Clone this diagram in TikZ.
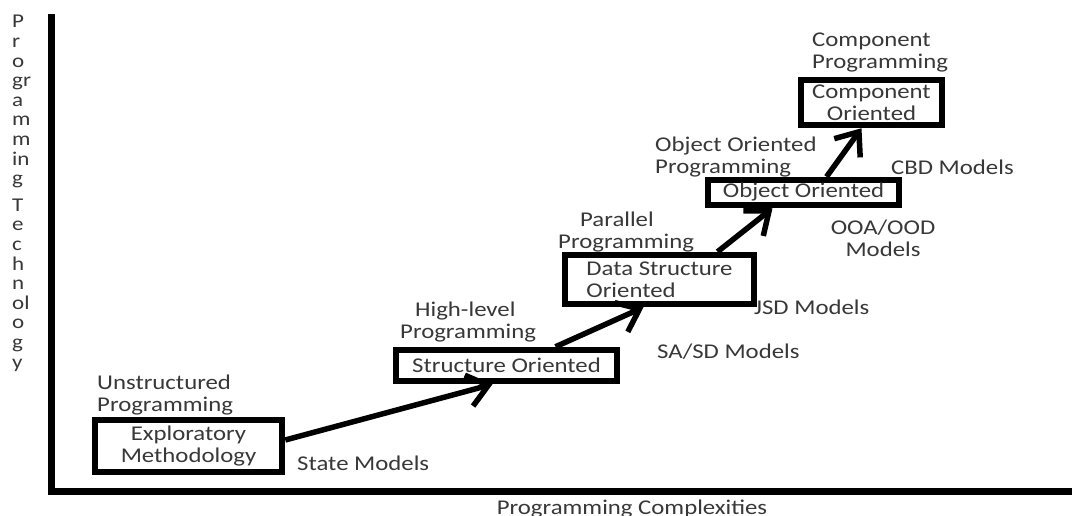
\documentclass[tikz,border=0pt]{standalone}
\usepackage{fontspec}
\setmainfont{Carlito}[FakeStretch=1.18]
\usepackage{xcolor}
\definecolor{InkBlack}{HTML}{000000}
\definecolor{TextGray}{HTML}{383838}
\usetikzlibrary{positioning, arrows.meta, calc}

\begin{document}
\begin{tikzpicture}[
  x=1pt, y=-1pt,
  stage/.style={draw=InkBlack, line width=6.5pt, inner sep=0pt, align=center,
                text=TextGray, font=\fontsize{21}{22}\selectfont},
  note/.style={anchor=base west, align=left, inner sep=0pt, text=TextGray,
               font=\fontsize{21}{22.5}\selectfont},
  axisline/.style={line width=7pt, InkBlack, line join=miter},
  arr/.style={-{Straight Barb[length=20pt, width=32pt]}, line width=5.5pt, InkBlack}
]
  \useasboundingbox (0,0) rectangle (1076,515);
  \fill[white] (0,0) rectangle (1076,515);

  % Axes
  \coordinate (ytop) at (51,14);
  \coordinate (origin) at (51,491);
  \coordinate (xend) at (1072,491);
  \draw[axisline] (ytop) -- (origin) -- (xend);
  \node[note, font=\fontsize{19.5}{19.6}\selectfont] (ylab) at (12,368)
    {P\\r\\o\\gr\\a\\m\\m\\in\\g\\[7pt]T\\e\\c\\h\\n\\ol\\o\\g\\y};
  \node[note, anchor=base] (xlab) at (632,514) {Programming Complexities};

  % Stages
  \node[stage, minimum width=187pt, minimum height=52pt] (expl) at (188.5,446) {Exploratory\\Methodology};
  \node[stage, minimum width=221pt, minimum height=31pt] (struct) at (506.5,365.5) {Structure Oriented};
  \node[stage, minimum width=189pt, minimum height=49pt, align=left] (data) at (659.5,279.5) {Data Structure\\Oriented};
  \node[stage, minimum width=191pt, minimum height=25pt] (obj) at (803.5,192.5) {Object Oriented};
  \node[stage, minimum width=141pt, minimum height=45pt] (comp) at (871.5,102.5) {Component\\Oriented};

  % Programming labels (base = last line)
  \node[note] (unstr) at (97,411.5) {Unstructured\\Programming};
  \node[note] (high) at (400,338.5) {\hspace*{15pt}High-level\\Programming};
  \node[note] (para) at (558,248.5) {\hspace*{22pt}Parallel\\Programming};
  \node[note] (oop) at (655,173.5) {Object Oriented\\Programming};
  \node[note] (cbp) at (812,68.5) {Component\\Programming};

  % Model labels
  \node[note] (state) at (297,470) {State Models};
  \node[note] (sasd) at (657,358) {SA/SD Models};
  \node[note] (jsd) at (754,314) {JSD Models};
  \node[note, anchor=base, align=center] (ooa) at (883,256.5) {OOA/OOD\\Models};
  \node[note] (cbd) at (891,174) {CBD Models};

  % Arrows
  \draw[arr] ($(expl.east)+(0,-6)$) -- ($(struct.south)+(-14,0)$);
  \draw[arr] ($(struct.north)+(49,0)$) -- ($(data.south)+(-16,0)$);
  \draw[arr] ($(data.north)+(58,0)$) -- ($(obj.south)+(-31,0)$);
  \draw[arr] ($(obj.north)+(23,0)$) -- ($(comp.south)+(-10,0)$);
\end{tikzpicture}
\end{document}
